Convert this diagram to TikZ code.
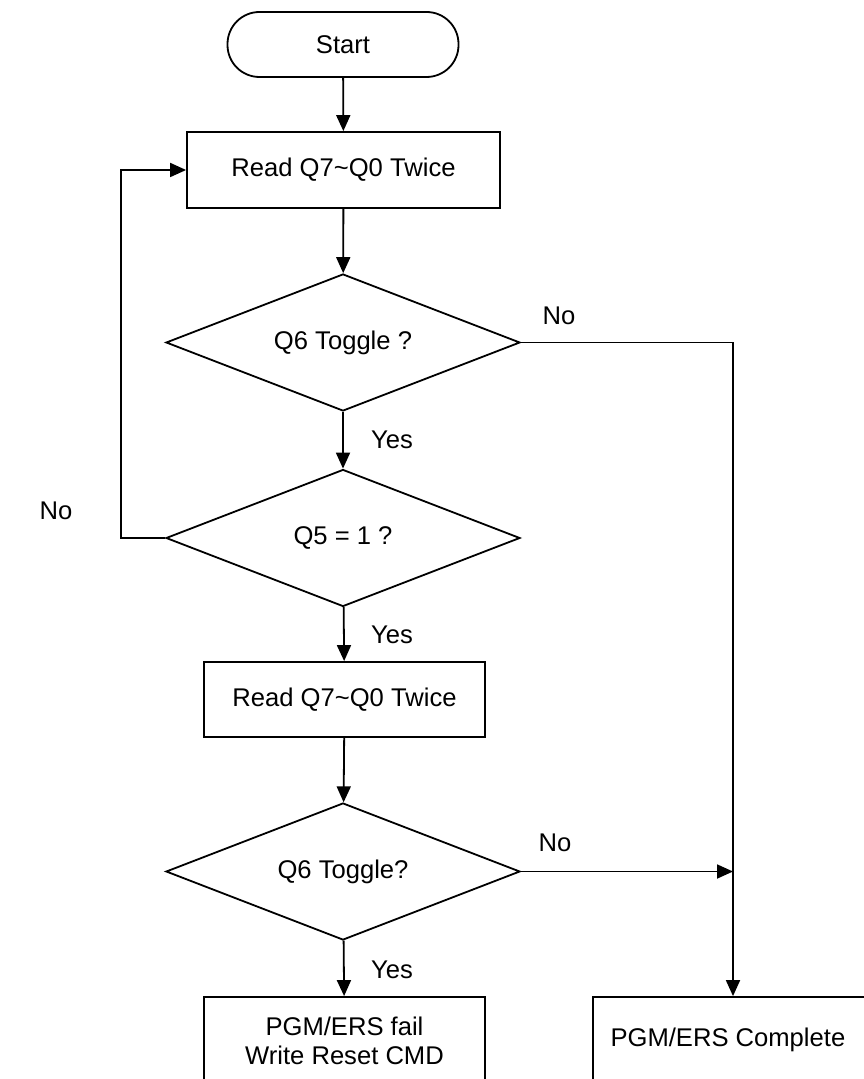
\documentclass[tikz,border=0pt]{standalone}
\usepackage{fontspec}
\setmainfont{Liberation Sans}
\usetikzlibrary{shapes.geometric,arrows.meta}
\begin{document}
\begin{tikzpicture}[x=0.5pt,y=-0.5pt,
  every node/.style={font=\fontsize{12.8}{14.2}\selectfont},
  base/.style={draw=black,line width=0.9pt,inner sep=0pt,align=center},
  termbox/.style={base,rectangle,rounded corners=16pt,minimum width=115.5pt,minimum height=32.5pt},
  procbox/.style={base,rectangle,minimum height=38pt},
  decbox/.style={base,diamond,aspect=2.6,minimum width=177pt,minimum height=68.5pt},
  lbl/.style={inner sep=0pt},
  conn/.style={line width=0.9pt,-{Triangle[length=8pt,width=7pt]}},
  plain/.style={line width=0.9pt}]
\useasboundingbox (0,0) rectangle (863,1079);
\node[termbox] (start) at (343,44.5) {Start};
\node[procbox,minimum width=156.5pt] (read1) at (343.5,170) {Read Q7\char`~Q0 Twice};
\node[decbox] (tog1) at (343,342.5) {Q6 Toggle ?};
\node[decbox] (q5) at (343,538) {Q5 = 1 ?};
\node[procbox,minimum width=140.5pt,minimum height=37.5pt] (read2) at (344.5,699.5) {Read Q7\char`~Q0 Twice};
\node[decbox] (tog2) at (343,871.5) {Q6 Toggle?};
\node[procbox,minimum width=140.5pt,minimum height=44pt] (fail) at (344.5,1041) {PGM/ERS fail\\Write Reset CMD};
\node[procbox,anchor=west,minimum width=160pt,minimum height=43pt] (done) at (592,1040) {PGM/ERS Complete\hspace*{25pt}};
\coordinate (rj) at (733,342.5);
\coordinate (mj) at (733,871.5);
\coordinate (lj) at (121,538);
\node[lbl] (yes1) at (392,440) {Yes};
\node[lbl] (yes2) at (392,635) {Yes};
\node[lbl] (yes3) at (392,970) {Yes};
\node[lbl] (no1) at (559,316) {No};
\node[lbl] (no2) at (56,511) {No};
\node[lbl] (no3) at (555,843) {No};
\draw[conn] (start) -- (read1);
\draw[conn] (read1) -- (tog1);
\draw[conn] (tog1) -- (q5);
\draw[conn] (q5) -- (read2);
\draw[conn] (read2) -- (tog2);
\draw[conn] (tog2) -- (fail);
\draw[conn] (tog2.east) -- (mj);
\draw[conn] (tog1.east) -- (rj) -- (rj |- done.north);
\draw[conn] (q5.west) -- (lj) |- (read1.west);
\end{tikzpicture}
\end{document}
